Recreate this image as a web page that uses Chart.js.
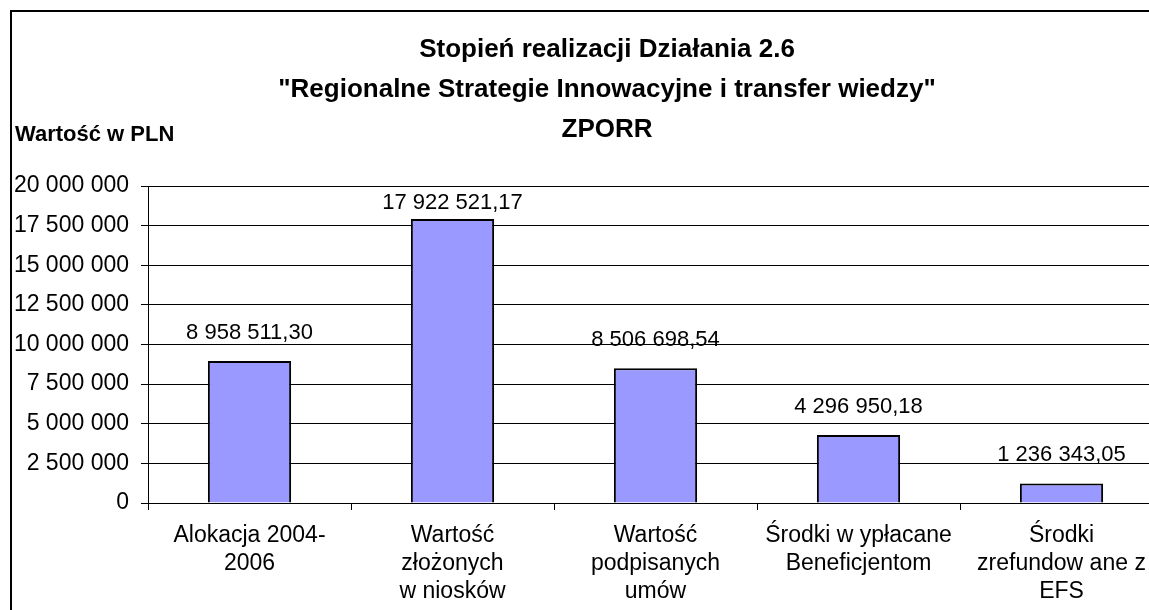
<!DOCTYPE html>
<html>
<head>
<meta charset="utf-8">
<script src="https://cdn.jsdelivr.net/npm/chart.js@4"></script>
<style>
  html, body { margin: 0; padding: 0; background: #fff; overflow: hidden; width: 1149px; height: 610px; }
  #frame { position: absolute; left: 10px; top: 10px; width: 1300px; height: 800px; border: 2px solid #000; box-sizing: border-box; }
  #wrap { position: absolute; left: 0; top: 0; width: 1200px; height: 640px; }
</style>
</head>
<body>
<div id="frame"></div>
<div id="wrap"><canvas id="chart" width="1200" height="640"></canvas></div>
<script>
const categories = [
  ['Alokacja 2004-', '2006'],
  ['Wartość', 'złożonych', 'w niosków'],
  ['Wartość', 'podpisanych', 'umów'],
  ['Środki w ypłacane', 'Beneficjentom'],
  ['Środki', 'zrefundow ane z', 'EFS']
];
const values = [8958511.30, 17922521.17, 8506698.54, 4296950.18, 1236343.05];
const titleLines = [
  'Stopień realizacji Działania 2.6',
  '"Regionalne Strategie Innowacyjne i transfer wiedzy"',
  'ZPORR'
];
const axisTitle = 'Wartość w PLN';

const FONT = '"Liberation Sans", Arial, sans-serif';

// 1234567.8 -> "1 234 567,80"
function fmt(v, dec) {
  const parts = v.toFixed(dec).split('.');
  const int = parts[0].replace(/\B(?=(\d{3})+(?!\d))/g, ' ');
  return parts.length > 1 ? int + ',' + parts[1] : int;
}

const extras = {
  id: 'extras',
  afterDatasetsDraw(chart) {
    const ctx = chart.ctx;
    const area = chart.chartArea;
    const meta = chart.getDatasetMeta(0);
    ctx.save();
    ctx.fillStyle = '#000';
    ctx.textBaseline = 'middle';

    // value labels above the bars
    ctx.font = '22px ' + FONT;
    ctx.textAlign = 'center';
    meta.data.forEach((bar, i) => {
      ctx.fillText(fmt(values[i], 2), bar.x, Math.max(bar.y - 28, area.top + 17));
    });

    // title, three lines
    ctx.font = 'bold 26px ' + FONT;
    titleLines.forEach((line, i) => {
      ctx.fillText(line, 607, 50 + i * 40);
    });

    // units label
    ctx.font = 'bold 22px ' + FONT;
    ctx.textAlign = 'left';
    ctx.fillText(axisTitle, 15, area.top - 51);
    ctx.restore();
  }
};

new Chart(document.getElementById('chart'), {
  type: 'bar',
  data: {
    labels: categories,
    datasets: [{
      data: values,
      backgroundColor: '#9999ff',
      borderColor: '#000',
      borderWidth: 2,
      barPercentage: 0.41,
      categoryPercentage: 1
    }]
  },
  options: {
    responsive: false,
    animation: false,
    layout: { padding: { left: 0, right: 37, top: 186, bottom: 0 } },
    plugins: {
      legend: { display: false },
      tooltip: { enabled: false },
      title: { display: false }
    },
    scales: {
      x: {
        grid: { drawOnChartArea: false, drawTicks: true, tickLength: 7, color: '#000', offset: true },
        border: { display: true, color: '#000', width: 1 },
        ticks: { color: '#000', font: { family: FONT, size: 23, lineHeight: 1.22 }, maxRotation: 0, autoSkip: false, padding: 12 },
        afterFit(scale) { scale.height = 137; }
      },
      y: {
        min: 0,
        max: 20000000,
        grid: { color: '#000', lineWidth: 1, tickLength: 7 },
        border: { display: true, color: '#000', width: 1 },
        ticks: {
          stepSize: 2500000,
          color: '#000',
          font: { family: FONT, size: 23 },
          padding: 12,
          callback: (v) => fmt(v, 0)
        },
        afterFit(scale) { scale.width = 148; }
      }
    }
  },
  plugins: [extras]
});
</script>
</body>
</html>
